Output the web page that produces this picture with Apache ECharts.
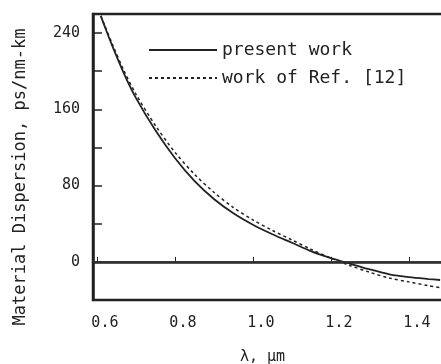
<!DOCTYPE html>
<html>
<head>
<meta charset="utf-8">
<script src="https://cdn.jsdelivr.net/npm/echarts@6/dist/echarts.min.js"></script>
<style>
  html, body { margin: 0; padding: 0; background: #fff; }
  #chart { width: 441px; height: 364px; }
</style>
</head>
<body>
<div id="chart"></div>
<script>
  // wavelength (um) and material dispersion (ps/nm-km)
  const lambda = [0.61, 0.62, 0.64, 0.67, 0.70, 0.75, 0.80, 0.85, 0.90, 0.95, 1.00,
                  1.05, 1.10, 1.15, 1.20, 1.25, 1.30, 1.35, 1.40, 1.45, 1.48]
  const presentWork = [258, 247, 226, 197, 172, 138, 109, 85, 66, 51, 39,
                       29, 20, 11, 4, -2, -8, -13, -16, -18, -19]
  const refWork = [258, 248, 228, 200, 176, 143, 115, 92, 73, 57, 44,
                   33, 23, 13, 4, -4, -11, -17, -21, -25, -27]
  const xTicks = [0.6, 0.8, 1.0, 1.2, 1.4]
  const yLabels = [0, 80, 160, 240]
  const yTicks = [0, 40, 80, 120, 160, 200, 240]
  const seriesNames = ['present work', 'work of Ref. [12]']

  const font = 'DejaVu Sans Mono'
  const ink = '#222'

  const chart = echarts.init(document.getElementById('chart'))

  const pairs = (ys) => lambda.map((x, i) => [x, ys[i]])

  const option = {
    animation: false,
    backgroundColor: '#fff',
    grid: {
      left: 93, top: 14, right: -3, bottom: 64,
      outerBoundsMode: 'none',
      containLabel: false,
      show: true, borderColor: ink, borderWidth: 2.5
    },
    legend: {
      orient: 'vertical',
      left: 143, top: 36,
      itemWidth: 68, itemHeight: 14, itemGap: 10,
      data: seriesNames,
      itemStyle: { color: 'transparent', borderWidth: 0 },
      textStyle: { fontFamily: font, fontSize: 18, color: ink }
    },
    xAxis: {
      type: 'value',
      min: 0.59, max: 1.49,
      name: 'λ, μm',
      nameLocation: 'middle',
      nameGap: 50,
      nameTextStyle: { fontFamily: font, fontSize: 15, color: ink, padding: [0, 12, 0, 0] },
      axisLine: { lineStyle: { color: ink, width: 2.5 } },
      axisTick: { inside: true, length: 5, customValues: xTicks, lineStyle: { color: ink } },
      axisLabel: {
        customValues: xTicks,
        fontFamily: font, fontSize: 15, color: ink, margin: 16,
        padding: [0, 0, 0, 16],
        formatter: v => v.toFixed(1)
      },
      splitLine: { show: false }
    },
    yAxis: {
      type: 'value',
      min: -40, max: 260,
      name: 'Material Dispersion, ps/nm-km',
      nameLocation: 'middle',
      nameGap: 64,
      nameTextStyle: { fontFamily: font, fontSize: 17, color: ink, padding: [0, 40, 0, 0] },
      axisLine: { lineStyle: { color: ink, width: 2.5 } },
      axisTick: { inside: true, length: 9, customValues: yTicks, lineStyle: { color: ink, width: 1.5 } },
      axisLabel: {
        customValues: yLabels,
        fontFamily: font, fontSize: 15, color: ink, margin: 13
      },
      splitLine: { show: false }
    },
    series: [
      {
        name: seriesNames[0],
        type: 'line',
        data: pairs(presentWork),
        smooth: 0.3,
        symbol: 'none',
        lineStyle: { color: ink, width: 1.8 },
        itemStyle: { color: ink },
        markLine: {
          silent: true,
          symbol: 'none',
          label: { show: false },
          lineStyle: { color: '#333', width: 1.5, type: 'solid' },
          data: [{ yAxis: 0 }]
        }
      },
      {
        name: seriesNames[1],
        type: 'line',
        data: pairs(refWork),
        smooth: 0.3,
        symbol: 'none',
        lineStyle: { color: ink, width: 1.5, type: [3, 3] },
        itemStyle: { color: ink }
      }
    ]
  }

  chart.setOption(option)
</script>
</body>
</html>
